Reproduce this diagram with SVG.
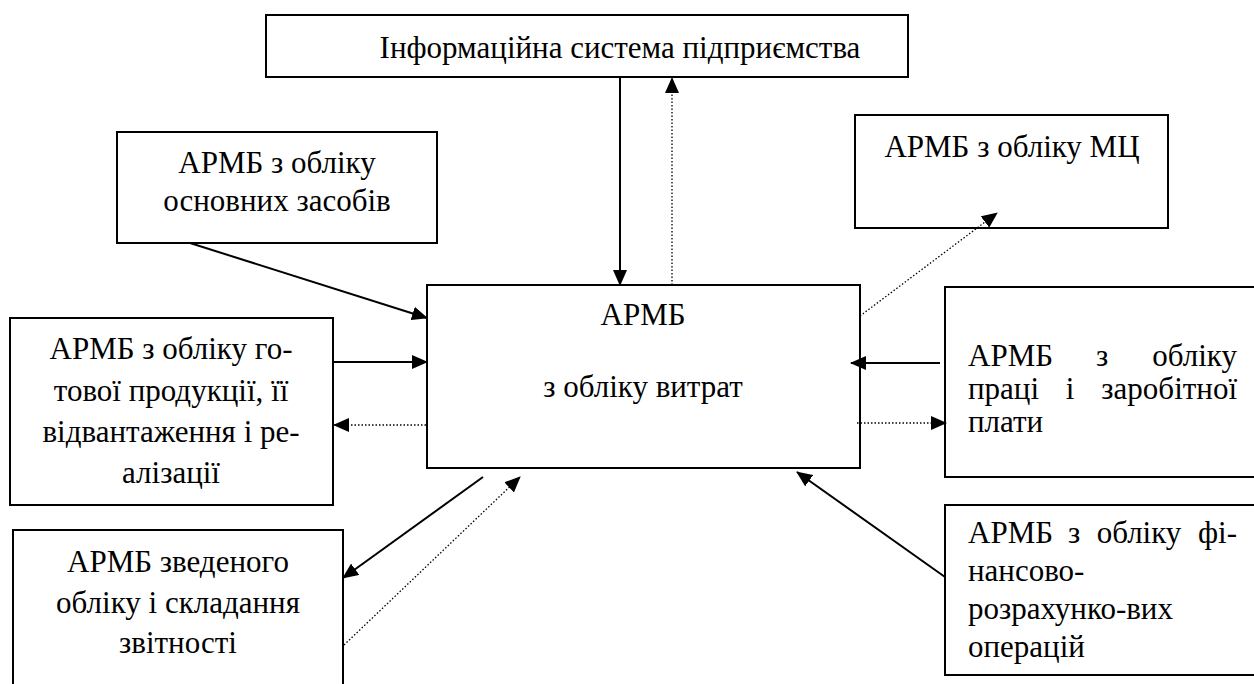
<svg xmlns="http://www.w3.org/2000/svg" width="1254" height="684" viewBox="0 0 1254 684">
<style>
.box{fill:#fff;stroke:#000;stroke-width:2}
.t{font-family:'Liberation Serif',serif;font-size:31px;fill:#000}
.c{text-anchor:middle}
.e{text-anchor:end}
.solid{stroke:#000;stroke-width:2;fill:none}
.dot{stroke:#000;stroke-width:1.3;stroke-dasharray:1.5 2;fill:none}
</style>
<defs>
<marker id="ah" markerUnits="userSpaceOnUse" markerWidth="16" markerHeight="14" refX="15" refY="7" orient="auto">
<path d="M0,0 L16,7 L0,14 Z" fill="#000"/>
</marker>
</defs>
<g id="n-top"><rect class="box" x="266" y="15" width="642" height="62"/><text class="t c" x="620" y="58">Інформаційна система підприємства</text></g>
<g id="n-oz"><rect class="box" x="117" y="132" width="320" height="111"/><text class="t c" x="277" y="173">АРМБ з обліку</text><text class="t c" x="277" y="211">основних засобів</text></g>
<g id="n-mc"><rect class="box" x="855" y="115" width="313" height="113"/><text class="t c" x="1012" y="157">АРМБ з обліку МЦ</text></g>
<g id="n-center"><rect class="box" x="427" y="285" width="433" height="183"/><text class="t c" x="643" y="325">АРМБ</text><text class="t c" x="643" y="397">з обліку витрат</text></g>
<g id="n-gp"><rect class="box" x="10" y="318" width="323" height="187"/><text class="t c" x="171" y="359">АРМБ з обліку го-</text><text class="t c" x="171" y="401">тової продукції, її</text><text class="t c" x="171" y="442">відвантаження і ре-</text><text class="t c" x="171" y="483">алізації</text></g>
<g id="n-zv"><rect class="box" x="13" y="530" width="330" height="160"/><text class="t c" x="178" y="572">АРМБ зведеного</text><text class="t c" x="178" y="613">обліку і складання</text><text class="t c" x="178" y="653">звітності</text></g>
<g id="n-pr"><rect class="box" x="945" y="287" width="320" height="190"/><text class="t" x="968" y="366">АРМБ</text><text class="t c" x="1102" y="366">з</text><text class="t e" x="1237" y="366">обліку</text><text class="t" x="968" y="399">праці</text><text class="t c" x="1070" y="399">і</text><text class="t e" x="1237" y="399">заробітної</text><text class="t" x="968" y="432">плати</text></g>
<g id="n-fin"><rect class="box" x="945" y="505" width="320" height="170"/><text class="t" x="968" y="543">АРМБ</text><text class="t c" x="1074" y="543">з</text><text class="t c" x="1139" y="543">обліку</text><text class="t e" x="1237" y="543">фі-</text><text class="t" x="968" y="581">нансово-</text><text class="t" x="968" y="619">розрахунко-вих</text><text class="t" x="968" y="657">операцій</text></g>
<g id="connectors">
<line class="solid" x1="620" y1="77" x2="620" y2="285" marker-end="url(#ah)"/>
<line class="dot" x1="672" y1="285" x2="672" y2="78" marker-end="url(#ah)"/>
<line class="solid" x1="190" y1="243" x2="427" y2="318" marker-end="url(#ah)"/>
<line class="solid" x1="333" y1="362" x2="427" y2="362" marker-end="url(#ah)"/>
<line class="dot" x1="426" y1="425" x2="334" y2="425" marker-end="url(#ah)"/>
<line class="solid" x1="483" y1="477" x2="343" y2="578" marker-end="url(#ah)"/>
<line class="dot" x1="344" y1="645" x2="520" y2="477" marker-end="url(#ah)"/>
<line class="dot" x1="860" y1="316" x2="997" y2="213" marker-end="url(#ah)"/>
<line class="solid" x1="940" y1="363" x2="851" y2="363" marker-end="url(#ah)"/>
<line class="dot" x1="857" y1="423" x2="946" y2="423" marker-end="url(#ah)"/>
<line class="solid" x1="945" y1="577" x2="797" y2="472" marker-end="url(#ah)"/>
</g>
</svg>
